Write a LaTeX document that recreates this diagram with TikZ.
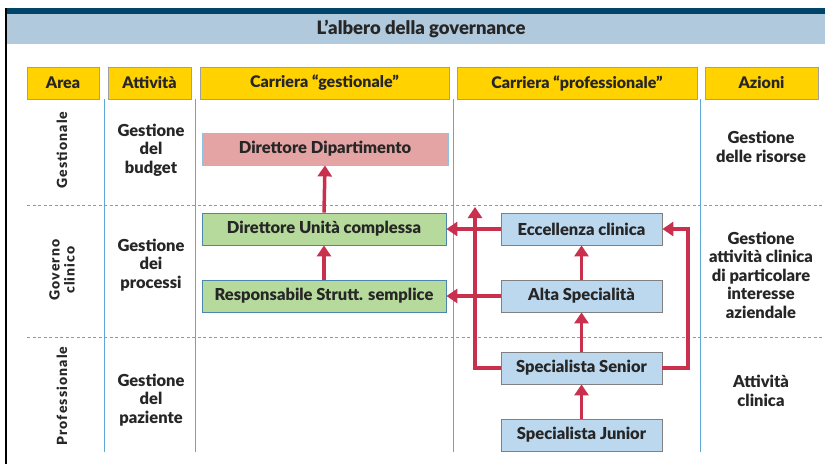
\documentclass[tikz,border=0pt]{standalone}
\usepackage{fontspec}
\setmainfont{Lato}[BoldFont={Lato Black}]
\usetikzlibrary{arrows.meta}
\definecolor{titlebar}{HTML}{00446A}
\definecolor{titleband}{HTML}{B1C9DC}
\definecolor{headyellow}{HTML}{FFD200}
\definecolor{gridblue}{HTML}{5FA8D6}
\definecolor{pinkbox}{HTML}{E5A4A4}
\definecolor{greenbox}{HTML}{B5DA9C}
\definecolor{bluebox}{HTML}{BCD8EF}
\definecolor{arrowred}{HTML}{C8304E}

\begin{document}
\begin{tikzpicture}[x=1pt,y=-1pt,
  headbox/.style={draw=gray!75, fill=headyellow, minimum height=32pt, inner sep=0pt,
    font=\bfseries\fontsize{16}{18}\selectfont, text=black!85},
  rolebox/.style={minimum height=32pt, inner sep=0pt, line width=0.8pt,
    font=\bfseries\fontsize{16.5}{18}\selectfont, text=black!85},
  coltext/.style={align=center, font=\bfseries\fontsize{16.5}{18.5}\selectfont, text=black!85},
  arealabel/.style={rotate=90, align=center,
    font=\bfseries\fontsize{14}{15}\selectfont\addfontfeature{LetterSpace=8}, text=black!85},
  arr/.style={draw=arrowred, line width=3.5pt, -{Triangle[length=11pt,width=14pt]}},
  sep/.style={draw=gridblue, line width=0.8pt}]
\useasboundingbox (0,0) rectangle (825,464);

% Title
\fill[titlebar] (6,8) rectangle (825,14);
\fill[titleband] (6,14) rectangle (825,44);
\draw[black, line width=2pt] (6,8) -- (6,464);
\node[font=\bfseries\fontsize{18.5}{20}\selectfont, text=black!85] (title) at (421,29) {L’albero della governance};

% Column grid
\foreach \x in {104,195,453,700}
  \draw[sep] (\x,99) -- (\x,452);
\foreach \y in {205,337}
  \draw[sep, dashed, dash pattern=on 3pt off 2.5pt] (27,\y) -- (825,\y);

% Headers
\node[headbox, minimum width=72pt] (hArea) at (63,83) {Area};
\node[headbox, minimum width=83pt] (hAtt) at (149.5,83) {Attività};
\node[headbox, minimum width=249pt] (hGest) at (324.5,83) {Carriera “gestionale”};
\node[headbox, minimum width=240pt] (hProf) at (577,83) {Carriera “professionale”};
\node[headbox, minimum width=113pt] (hAz) at (761.5,83) {Azioni};

% Area
\node[arealabel] (aGest) at (62,150) {Gestionale};
\node[arealabel] (aGov) at (62,270) {Governo\\clinico};
\node[arealabel] (aProf) at (62,396) {Professionale};

% Attivita
\node[coltext] (tBudget) at (151,150) {Gestione\\del\\budget};
\node[coltext] (tProc) at (151,265) {Gestione\\dei\\processi};
\node[coltext] (tPaz) at (151,400) {Gestione\\del\\paziente};

% Azioni
\node[coltext] (zRis) at (761,147) {Gestione\\delle risorse};
\node[coltext] (zClin) at (761,275) {Gestione\\attività clinica\\di particolare\\interesse\\aziendale};
\node[coltext] (zAtt) at (761,391) {Attività\\clinica};

% Carriera gestionale
\node[rolebox, draw=gridblue!70, fill=pinkbox, minimum width=246pt] (dd) at (325,149) {Direttore Dipartimento};
\node[rolebox, draw=gridblue!80!black, fill=greenbox, minimum width=244pt] (duc) at (324,229) {Direttore Unità complessa};
\node[rolebox, draw=gridblue!80!black, fill=greenbox, minimum width=244pt] (rss) at (324,296) {Responsabile Strutt. semplice};

% Carriera professionale
\node[rolebox, draw=gray, fill=bluebox, minimum width=161pt] (ecc) at (581.5,229) {Eccellenza clinica};
\node[rolebox, draw=gray, fill=bluebox, minimum width=161pt] (alta) at (581.5,296) {Alta Specialità};
\node[rolebox, draw=gray, fill=bluebox, minimum width=161pt] (sen) at (581.5,368) {Specialista Senior};
\node[rolebox, draw=gray, fill=bluebox, minimum width=161pt] (jun) at (581.5,435) {Specialista Junior};

% Arrows
\coordinate (loopL) at (475,207);
\coordinate (loopR) at (688,229);
\draw[arr] (duc.north) -- (dd.south);
\draw[arr] (rss.north) -- (duc.south);
\draw[arr] (ecc.west) -- (duc.east);
\draw[arr] (alta.west) -- (rss.east);
\draw[arr] (alta.north) -- (ecc.south);
\draw[arr] (sen.north) -- (alta.south);
\draw[arr] (jun.north) -- (sen.south);
\draw[arr] (sen.west) -| (loopL);
\draw[arr] (sen.east) -| (loopR) -- (ecc.east);
\end{tikzpicture}
\end{document}
